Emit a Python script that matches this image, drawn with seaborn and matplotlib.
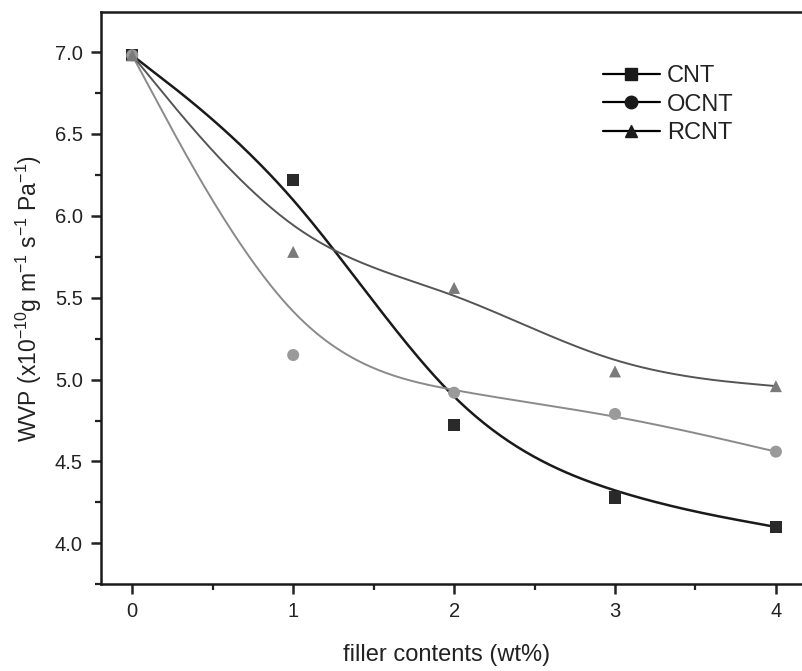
import numpy as np
import pandas as pd
import matplotlib
matplotlib.use("Agg")
import matplotlib.pyplot as plt
from matplotlib.lines import Line2D
from matplotlib.ticker import MultipleLocator
import seaborn as sns

# ---- data ----
filler = [0, 1, 2, 3, 4]
cnt = [6.98, 6.22, 4.72, 4.28, 4.10]
ocnt = [6.98, 5.15, 4.92, 4.79, 4.56]
rcnt = [6.98, 5.78, 5.56, 5.05, 4.96]
series_names = ["CNT", "OCNT", "RCNT"]
x_ticks = [0, 1, 2, 3, 4]
y_ticks = [4.0, 4.5, 5.0, 5.5, 6.0, 6.5, 7.0]


def bspline(xs, ys, n_seg=60):
    """Uniform cubic B-spline with tripled end control points (Origin-like)."""
    P = np.column_stack([xs, ys]).astype(float)
    Q = np.vstack([P[:1], P[:1], P, P[-1:], P[-1:]])
    u = np.linspace(0, 1, n_seg)
    b0 = (1 - u) ** 3 / 6
    b1 = (3 * u ** 3 - 6 * u ** 2 + 4) / 6
    b2 = (-3 * u ** 3 + 3 * u ** 2 + 3 * u + 1) / 6
    b3 = u ** 3 / 6
    out = []
    for i in range(len(Q) - 3):
        seg = (np.outer(b0, Q[i]) + np.outer(b1, Q[i + 1])
               + np.outer(b2, Q[i + 2]) + np.outer(b3, Q[i + 3]))
        out.append(seg if i == 0 else seg[1:])
    C = np.vstack(out)
    return C[:, 0], C[:, 1]


series = {"CNT": cnt, "OCNT": ocnt, "RCNT": rcnt}
pts = pd.DataFrame({
    "filler": filler * 3,
    "wvp": cnt + ocnt + rcnt,
    "series": [s for s in series_names for _ in filler],
})
curve_rows = []
for name in series_names:
    cx, cy = bspline(filler, series[name])
    for a, b in zip(cx, cy):
        curve_rows.append((a, b, name))
curves = pd.DataFrame(curve_rows, columns=["filler", "wvp", "series"])

sns.set_style("ticks")
plt.rcParams["font.family"] = ["Liberation Sans", "DejaVu Sans"]
plt.rcParams["mathtext.fontset"] = "custom"
plt.rcParams["mathtext.rm"] = "Liberation Sans"
plt.rcParams["mathtext.it"] = "Liberation Sans"
plt.rcParams["mathtext.bf"] = "Liberation Sans:bold"

fig = plt.figure(figsize=(8.03, 6.71), dpi=100)
ax = fig.add_axes([0.1254, 0.1292, 0.901, 0.853])

line_colors = {"CNT": "#1a1a1a", "OCNT": "#8a8a8a", "RCNT": "#555555"}
line_widths = {"CNT": 1.8, "OCNT": 1.4, "RCNT": 1.4}
mark_colors = {"CNT": "#2a2a2a", "OCNT": "#9a9a9a", "RCNT": "#7a7a7a"}
markers = {"CNT": "s", "OCNT": "o", "RCNT": "^"}

for name in series_names:
    sub = curves[curves["series"] == name]
    sns.lineplot(data=sub, x="filler", y="wvp", ax=ax, sort=False,
                 color=line_colors[name], linewidth=line_widths[name],
                 estimator=None, legend=False)
for name in series_names:
    sub = pts[pts["series"] == name]
    sns.scatterplot(data=sub, x="filler", y="wvp", ax=ax,
                    marker=markers[name], color=mark_colors[name],
                    s=75, edgecolor="none", legend=False, zorder=3)

ax.set_xlim(-0.196, 4.3)
ax.set_ylim(3.75, 7.245)
ax.set_xticks(x_ticks)
ax.set_yticks(y_ticks)
ax.set_yticklabels([f"{v:.1f}" for v in y_ticks])
ax.xaxis.set_minor_locator(MultipleLocator(0.5))
ax.yaxis.set_minor_locator(MultipleLocator(0.25))
ax.tick_params(which="major", direction="out", length=7, width=1.8,
               labelsize=14.5, colors="#222222", pad=6)
ax.tick_params(which="minor", direction="out", length=4, width=1.6,
               colors="#222222")
ax.tick_params(axis="x", which="both", top=False)
ax.tick_params(axis="y", which="both", right=False)
for sp in ["left", "bottom", "top"]:
    ax.spines[sp].set_linewidth(1.8)
    ax.spines[sp].set_color("#1a1a1a")
ax.spines["right"].set_visible(False)

ax.set_xlabel("filler contents (wt%)", fontsize=17, color="#222222")
ax.xaxis.set_label_coords(0.4786, -0.105)
ax.set_ylabel(r"WVP (x10$^{\mathrm{-10}}$g m$^{\mathrm{-1}}$ s$^{\mathrm{-1}}$ Pa$^{\mathrm{-1}}$)",
              fontsize=16.5, labelpad=8, color="#222222")

handles = [Line2D([], [], color="black", linewidth=1.6,
                  marker=markers[n], markersize=9,
                  markerfacecolor="#1a1a1a", markeredgecolor="#1a1a1a")
           for n in series_names]
leg = ax.legend(handles, series_names, loc="upper left",
                bbox_to_anchor=(603 / 803, 1 - 65 / 671),
                bbox_transform=fig.transFigure, frameon=False,
                fontsize=17, handlelength=2.4, handletextpad=0.3,
                labelspacing=0.28, borderpad=0, borderaxespad=0)
for txt in leg.get_texts():
    txt.set_color("#222222")

fig.savefig("out.png", dpi=100, facecolor="white")
